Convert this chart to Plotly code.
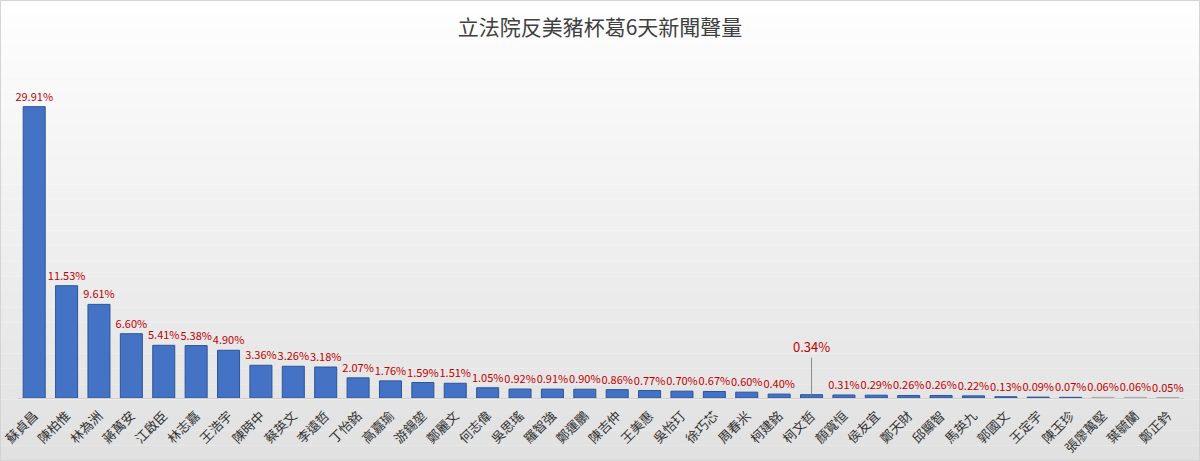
import plotly.graph_objects as go

title = "立法院反美豬杯葛6天新聞聲量"

names = [
    "蘇貞昌", "陳柏惟", "林為洲", "蔣萬安", "江啟臣", "林志嘉", "王浩宇", "陳時中",
    "蔡英文", "李遠哲", "丁怡銘", "高嘉瑜", "游錫堃", "鄭麗文", "何志偉", "吳思瑤",
    "羅智強", "鄭運鵬", "陳吉仲", "王美惠", "吳怡玎", "徐巧芯", "周春米", "柯建銘",
    "柯文哲", "顏寬恒", "侯友宜", "鄭天財", "邱顯智", "馬英九", "郭國文", "王定宇",
    "陳玉珍", "張廖萬堅", "葉毓蘭", "鄭正鈐",
]
share = [
    29.91, 11.53, 9.61, 6.60, 5.41, 5.38, 4.90, 3.36,
    3.26, 3.18, 2.07, 1.76, 1.59, 1.51, 1.05, 0.92,
    0.91, 0.90, 0.86, 0.77, 0.70, 0.67, 0.60, 0.40,
    0.34, 0.31, 0.29, 0.26, 0.26, 0.22, 0.13, 0.09,
    0.07, 0.06, 0.06, 0.05,
]
# label drawn raised with a leader line in the original
callout = "柯文哲"

font = "Noto Sans CJK TC, Noto Sans, sans-serif"
red = "#c00000"

W, H = 1200, 461
ml, mr, mt, mb = 18, 16, 60, 63

labels = ["" if n == callout else f"{v:.2f}%" for n, v in zip(names, share)]
colors = ["#bcbcbc" if v < 0.065 else "#4472c4" for v in share]
edges = ["#a8a8a8" if v < 0.065 else "#2f5597" for v in share]

fig = go.Figure(
    go.Bar(
        x=names,
        y=share,
        text=labels,
        textposition="outside",
        constraintext="none",
        textfont=dict(color=red, size=11, family=font),
        cliponaxis=False,
        marker=dict(color=colors, line=dict(color=edges, width=1)),
        hoverinfo="x+y",
    )
)

i = names.index(callout)
fig.add_annotation(
    x=names[i], y=share[i], text=f"{share[i]:.2f}%",
    showarrow=True, arrowhead=0, arrowwidth=1, arrowcolor="#8c8c8c",
    ax=0, ay=-48, font=dict(color=red, size=13, family=font),
)

# background gradient over the whole image, white at top -> light grey lower down
pw, ph = W - ml - mr, H - mt - mb
x0, x1 = -ml / pw, 1 + mr / pw
y0, y1 = -mb / ph, 1 + mt / ph
n_bands = 30
for k in range(n_bands):
    g = int(255 - 30 * k / (n_bands - 1))
    top = y1 - (y1 - y0) * k / n_bands
    bot = y1 - (y1 - y0) * (k + 1) / n_bands
    fig.add_shape(
        type="rect", xref="paper", yref="paper",
        x0=x0, x1=x1, y0=bot, y1=top,
        fillcolor=f"rgb({g},{g},{g})", line_width=0, layer="below",
    )
fig.add_shape(
    type="rect", xref="paper", yref="paper",
    x0=x0, x1=x1, y0=y0, y1=y1,
    line=dict(color="#d4d4d4", width=2), layer="above",
)

fig.update_layout(
    width=W,
    height=H,
    title=dict(
        text=title, x=0.5, xanchor="center", y=0.957, yanchor="top",
        font=dict(size=21, color="#404040", family=font),
    ),
    paper_bgcolor="white",
    plot_bgcolor="rgba(0,0,0,0)",
    margin=dict(l=ml, r=mr, t=mt, b=mb),
    bargap=0.32,
    showlegend=False,
    xaxis=dict(
        tickangle=-45,
        automargin=False,
        tickfont=dict(size=13, color="#333333", family=font),
        ticklabelstandoff=4,
        showgrid=False,
        showline=True,
        linecolor="#d0d0d0",
        ticks="",
    ),
    yaxis=dict(visible=False, range=[0, 34.7]),
)

fig.write_html(
    "out.html",
    config={"displayModeBar": False},
    post_script="document.body.style.margin='0';",
)
